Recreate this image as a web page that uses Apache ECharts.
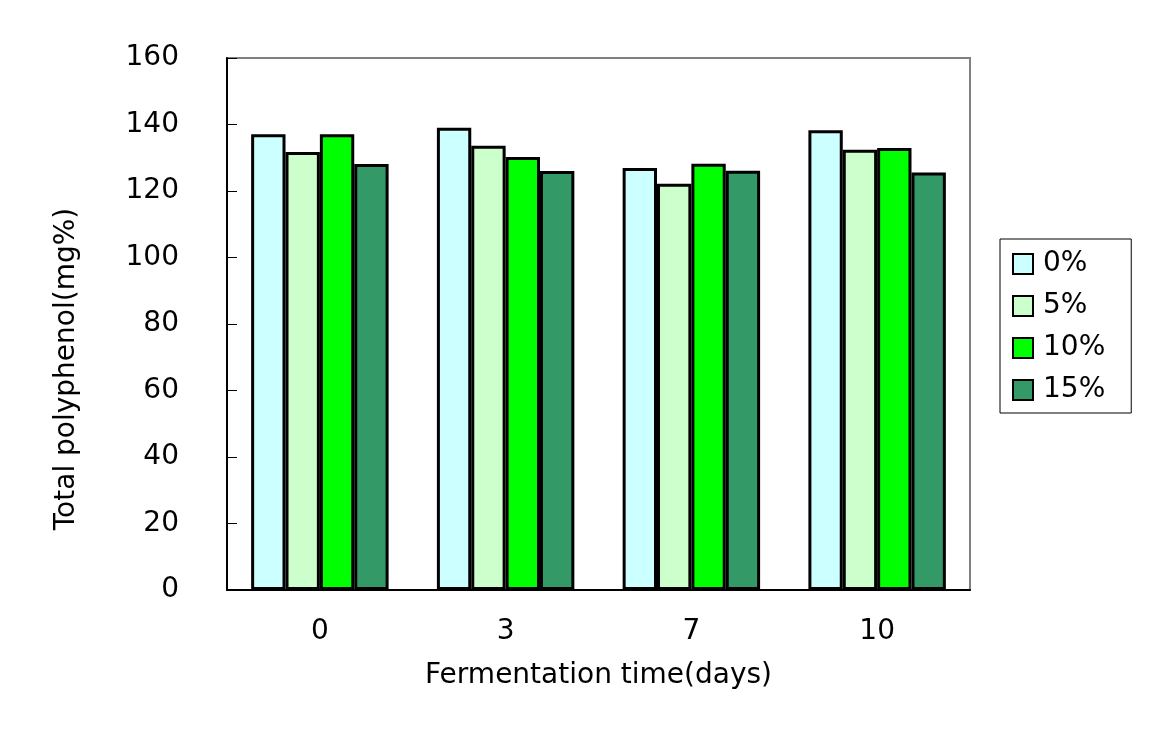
<!DOCTYPE html>
<html>
<head>
<meta charset="utf-8">
<script src="https://cdn.jsdelivr.net/npm/echarts@6/dist/echarts.min.js"></script>
<style>
  html, body { margin: 0; padding: 0; background: #fff; }
  #chart { width: 1159px; height: 740px; }
</style>
</head>
<body>
<div id="chart"></div>
<script>
// fermentation days on the x axis
var categories = ['0', '3', '7', '10']
var seriesNames = ['0%', '5%', '10%', '15%']
var colors = ['#CCFFFF', '#CCFFCC', '#00FF00', '#339966']

// total polyphenol (mg%)
var values0 = [137.1, 139.0, 126.9, 138.3]
var values5 = [131.7, 133.6, 122.2, 132.4]
var values10 = [137.1, 130.2, 128.2, 132.9]
var values15 = [128.1, 126.0, 126.1, 125.6]

var seriesValues = [values0, values5, values10, values15]
var fontFamily = 'DejaVu Sans'

var myChart = echarts.init(document.getElementById('chart'))

var option = {
  animation: false,
  backgroundColor: '#fff',
  textStyle: { fontFamily: fontFamily },
  grid: {
    left: 227,
    right: 189,
    top: 58,
    bottom: 150,
    show: true,
    borderColor: '#808080',
    borderWidth: 2,
  },
  legend: {
    orient: 'vertical',
    left: 1000,
    top: 239,
    data: seriesNames,
    icon: 'rect',
    itemWidth: 20,
    itemHeight: 20,
    itemGap: 14,
    padding: [11, 26, 9, 12],
    borderColor: '#000',
    borderWidth: 1,
    textStyle: { fontSize: 28, color: '#000', fontFamily: fontFamily, padding: [0, 0, 0, 5] },
  },
  xAxis: {
    type: 'category',
    data: categories,
    name: 'Fermentation time(days)',
    nameLocation: 'middle',
    nameGap: 72,
    nameTextStyle: { fontSize: 28, color: '#000', fontFamily: fontFamily },
    axisLine: { lineStyle: { color: '#000', width: 2 } },
    axisTick: { inside: true, length: 12, lineStyle: { color: '#000' } },
    axisLabel: { fontSize: 28, color: '#000', margin: 28, fontFamily: fontFamily },
  },
  yAxis: {
    type: 'value',
    min: 0,
    max: 160,
    interval: 20,
    name: 'Total polyphenol(mg%)',
    nameLocation: 'middle',
    nameGap: 146,
    nameTextStyle: { fontSize: 28, color: '#000', fontFamily: fontFamily, padding: [0, 90, 0, 0] },
    axisLine: { show: true, lineStyle: { color: '#000', width: 2 } },
    axisTick: { show: true, inside: true, length: 10, lineStyle: { color: '#000' } },
    axisLabel: { fontSize: 28, color: '#000', margin: 48, fontFamily: fontFamily },
    splitLine: { show: false },
  },
  series: seriesNames.map(function (name, i) {
    return {
      name: name,
      type: 'bar',
      data: seriesValues[i],
      barGap: '0%',
      barCategoryGap: '26%',
      itemStyle: {
        color: colors[i],
        borderColor: '#000',
        borderWidth: 3,
      },
    }
  }),
}

myChart.setOption(option)
</script>
</body>
</html>
